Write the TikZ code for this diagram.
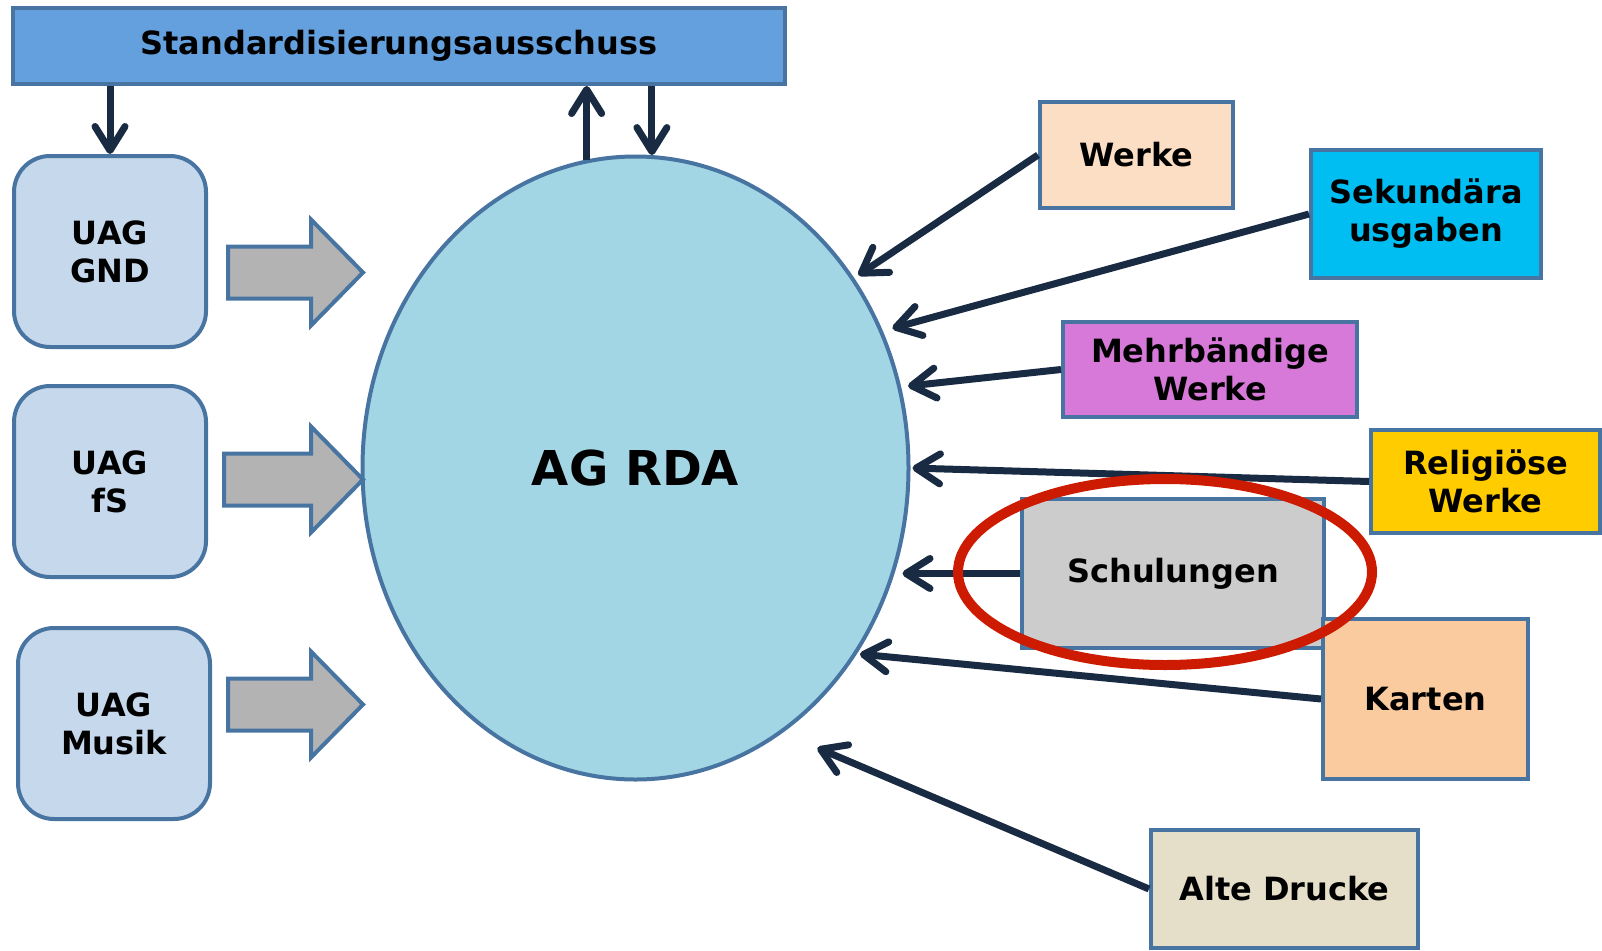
\documentclass[tikz,border=0pt]{standalone}
\usepackage{fontspec}
\setmainfont{DejaVu Sans}
\usetikzlibrary{shapes.geometric,arrows.meta,positioning}

\definecolor{edgeblue}{RGB}{72,116,162}
\definecolor{topblue}{RGB}{99,160,221}
\definecolor{uagblue}{RGB}{197,216,236}
\definecolor{agblue}{RGB}{163,214,228}
\definecolor{navy}{RGB}{24,43,66}
\definecolor{blockgray}{RGB}{179,179,179}
\definecolor{werkefill}{RGB}{251,222,196}
\definecolor{sekfill}{RGB}{0,189,242}
\definecolor{mehrfill}{RGB}{214,121,217}
\definecolor{relfill}{RGB}{255,204,0}
\definecolor{schulfill}{RGB}{204,204,204}
\definecolor{kartenfill}{RGB}{250,203,159}
\definecolor{altefill}{RGB}{229,222,201}
\definecolor{ringred}{RGB}{204,27,0}

\newcommand{\lbl}{\fontsize{32}{38}\selectfont\bfseries}

\begin{document}
\begin{tikzpicture}[
    x=1pt, y=-1pt,
    frame/.style={draw=edgeblue, line width=4pt, inner sep=0pt, align=center, font=\lbl},
    topbox/.style={frame, rectangle, fill=topblue, minimum width=772pt, minimum height=76pt},
    uag/.style={frame, rectangle, rounded corners=36pt, fill=uagblue, minimum width=192pt, minimum height=191pt},
    agnode/.style={frame, ellipse, fill=agblue, minimum width=546pt, minimum height=623pt, font=\fontsize{48}{54}\selectfont\bfseries},
    cat/.style={frame, rectangle},
    conn/.style={draw=navy, line width=7pt, -{Straight Barb[length=24pt,width=30pt,round]}},
    blockarr/.style={draw=edgeblue, line width=4pt, fill=blockgray, line join=miter},
    highlight/.style={draw=ringred, line width=10pt, ellipse, minimum width=414pt, minimum height=186pt, inner sep=0pt}
]
\useasboundingbox (0,0) rectangle (1602,950);

% Ausschuss oben
\node[topbox] (sa) at (399,46) {Standardisierungsausschuss};

% Unterarbeitsgruppen
\node[uag] (gnd) at (110,251.5) {UAG\\GND};
\node[uag] (fs) at (110,481.5) {UAG\\fS};
\node[uag] (musik) at (114,723.5) {UAG\\Musik};

% AG RDA
\node[agnode] (ag) at (635.5,468) {AG RDA};

% Blockpfeile
\foreach \yy/\xs in {272.5/228, 479.5/224, 704.5/228}
    \draw[blockarr] ({\xs},{\yy-26}) -- (311,{\yy-26}) -- (311,{\yy-53}) -- (363,{\yy})
        -- (311,{\yy+53}) -- (311,{\yy+26}) -- ({\xs},{\yy+26}) -- cycle;

% Themen rechts
\node[cat, fill=werkefill, minimum width=193pt, minimum height=106pt] (werke) at (1136.5,155) {Werke};
\node[cat, fill=sekfill, minimum width=230pt, minimum height=128pt] (sek) at (1426,214) {Sekundära\\usgaben};
\node[cat, fill=mehrfill, minimum width=294pt, minimum height=95pt] (mehr) at (1210,369.5) {Mehrbändige\\Werke};
\node[cat, fill=relfill, minimum width=229pt, minimum height=103pt] (rel) at (1485.5,481.5) {Religiöse\\Werke};
\node[cat, fill=schulfill, minimum width=302pt, minimum height=149pt] (schul) at (1173,573.5) {Schulungen};
\node[cat, fill=kartenfill, minimum width=205pt, minimum height=160pt] (karten) at (1425.5,699) {Karten};
\node[cat, fill=altefill, minimum width=267pt, minimum height=118pt] (alte) at (1284.5,889) {Alte Drucke};

% Pfeile oben
\draw[conn] (sa.south -| gnd.north) -- (gnd.north);
\draw[conn] (ag.99) -- (ag.99 |- sa.south);
\draw[conn] (ag.87 |- sa.south) -- (ag.87);

% Pfeile rechts
\draw[conn, shorten >=5pt] (werke.west) -- (ag.41);
\draw[conn, shorten >=10pt] (sek.west) -- (ag.29);
\draw[conn, shorten >=7pt] (mehr.west) -- (ag.17);
\draw[conn, shorten >=2pt] (rel.west) -- (ag.0);
\draw[conn, shorten >=-8pt] (schul.west) -- (schul.west -| ag.east);
\draw[conn, shorten >=3pt] (karten.west) -- (ag.-40);
\draw[conn, shorten >=38pt] (alte.west) -- (ag.-61);

% Markierung
\node[highlight] (ring) at (1165,572) {};

\end{tikzpicture}
\end{document}
